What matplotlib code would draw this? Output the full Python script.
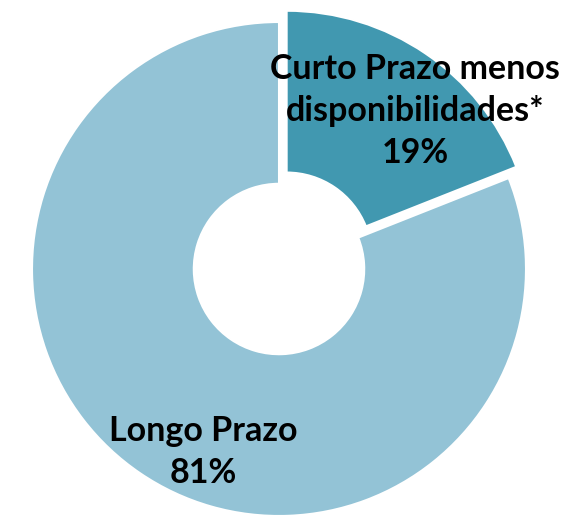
import matplotlib.pyplot as plt

# Data
labels = ["Curto Prazo menos\ndisponibilidades*", "Longo Prazo"]
shares = [19, 81]
colors = ["#4198B0", "#93C3D6"]
explode = [0.055, 0.0]

plt.rcParams['font.family'] = ['Lato', 'DejaVu Sans']

fig = plt.figure(figsize=(5.67, 5.16), dpi=100)
ax = fig.add_axes([0, 0, 1, 1])

wedges, _ = ax.pie(shares, colors=colors, explode=explode, startangle=90,
                   counterclock=False, radius=1.0,
                   wedgeprops=dict(width=0.655, edgecolor='white', linewidth=1.5))

# label positions (data coords)
label_pos = [(0.551, 0.64), (-0.308, -0.74)]
for lab, val, (x, y) in zip(labels, shares, label_pos):
    ax.text(x, y, f"{lab}\n{val}%", ha='center', va='center',
            fontsize=24.5, fontweight='bold', linespacing=1.4, color='black')

ax.set_xlim(-1.1296, 1.166)
ax.set_ylim(-1.0, 1.089)
ax.set_aspect('equal')
ax.axis('off')

fig.savefig("out.png", dpi=100)
